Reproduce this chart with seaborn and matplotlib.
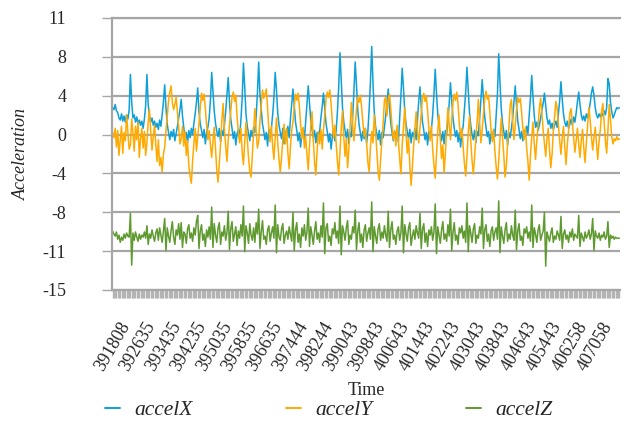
import matplotlib
matplotlib.use("Agg")
import matplotlib.pyplot as plt
import seaborn as sns
import numpy as np
import pandas as pd

# ---------------- data ----------------
accel_x = [
    2.6, 2.4, 2.9, 2.3, 2.1, 1.6, 1.4, 2.0, 1.3, 1.8, 1.2, 1.9, 1.5, 2.4,
    5.8, 3.1, 1.6, 1.9, 1.2, 1.7, 1.0, 1.4, 0.9, 1.3, 0.6, 1.5, 2.8,
    5.8, 2.9, 1.8, 1.2, 1.6, 0.9, 1.3, 0.7, 1.1, 0.5, 1.4, 0.8, 1.9, 3.2,
    4.8, 2.6, 1.0, 0.2, -0.5, 0.3, -0.2, 0.5, -0.6, 0.1, 0.8, 1.6, 2.4,
    3.4, 1.8, 0.7, -0.4, 0.2, -0.8, 0.4, -0.3, 0.6, 0.0, 1.1, 2.0, 3.1,
    4.5, 2.2, 1.0, 0.4, -0.3, 0.5, -0.9, 0.2, 0.7, 1.6, 3.3,
    6.0, 4.1, 2.3, 1.1, 0.3, -0.2, 0.6, -0.7, 0.4, -0.1, 0.9, 2.2, 3.8,
    5.5, 3.2, 1.5, 0.6, -0.4, 0.3, -1.0, 0.1, 0.5, -0.3, 1.4, 3.5,
    6.9, 4.6, 2.0, 0.8, 0.1, -0.6, 0.4, -0.2, 0.7, 0.2, 1.8, 4.0,
    7.0, 3.9, 2.4, 1.0, 0.3, -0.5, 0.2, -1.1, 0.5, -0.2, 0.6, 1.9, 3.6,
    6.0, 4.3, 2.1, 0.9, 0.2, -0.4, 0.6, -0.9, 0.3, -0.1, 0.8, -0.3, 1.5, 3.0,
    4.4, 2.8, 1.2, 0.4, -0.6, 0.2, -1.2, 0.1, 0.6, -0.4, 1.2, 2.9,
    4.7, 3.0, 1.4, 0.5, -0.3, 0.4, -0.8, 0.2, -0.5, 0.3, 1.6, 2.7,
    4.0, 2.5, 1.1, 0.3, -0.7, 0.1, -1.4, -0.2, 0.5, -0.6, 0.4, 2.2, 4.6,
    7.9, 5.2, 2.6, 1.2, 0.4, -0.3, 0.5, -0.9, 0.2, -0.2, 1.7, 4.2,
    7.0, 4.8, 2.4, 1.0, 0.2, -0.6, 0.3, -0.4, 0.6, -0.8, 0.4, 2.5, 5.1,
    8.5, 5.0, 2.2, 0.8, 0.1, -0.5, 0.4, -1.0, 0.2, -0.3, 0.7, 1.8, 3.0,
    4.4, 2.6, 1.1, 0.2, -0.6, 0.3, -0.2, 0.5, -0.7, 1.5, 3.8,
    6.4, 4.5, 2.3, 1.0, 0.3, -0.4, 0.5, -0.8, 0.2, -0.2, 0.6, -0.5, 1.3, 3.2,
    4.6, 2.7, 1.2, 0.4, -0.5, 0.2, -1.0, 0.3, -0.3, 0.5, 1.9, 3.9,
    6.3, 4.0, 2.0, 0.8, 0.1, -0.6, 0.3, -0.9, 0.4, 0.0, 1.4, 3.0,
    5.0, 3.3, 1.6, 0.6, -0.2, 0.4, -0.7, 0.2, -1.2, 0.1, 0.8, 2.4, 4.1,
    6.5, 4.2, 2.1, 0.9, 0.0, -0.5, 0.4, -0.8, 0.3, -0.1, 1.6, 3.4,
    5.3, 3.5, 1.7, 0.7, -0.2, 0.3, -0.9, 0.1, -0.4, 0.5, -0.2, 1.8, 3.9,
    7.8, 5.0, 2.5, 1.1, 0.3, -0.4, 0.4, -1.0, 0.2, -0.3, 0.6, 1.6, 3.1,
    4.7, 2.9, 1.3, 0.5, -0.4, 0.3, -0.6, 0.4, -0.2, 0.8, 0.1, 1.9, 3.6,
    5.7, 3.6, 1.8, 0.7, 1.2, 0.4, 0.9, 1.6, 2.4, 3.0,
    4.0, 2.8, 1.6, 1.0, 1.4, 0.6, 1.1, 0.5, 0.9, 1.3, 0.7, 2.0, 3.3,
    5.1, 3.4, 2.0, 1.2, 0.8, 1.3, 0.6, 1.0, 1.5, 0.9, 1.7, 1.2, 2.1, 3.2,
    4.1, 2.9, 1.9, 1.4, 1.8, 1.3, 2.0, 1.6, 2.2, 3.0, 4.0,
    4.6, 3.8, 2.6, 1.9, 1.6, 2.0, 1.7, 2.1, 1.8, 2.3, 1.9, 2.6,
    5.4, 4.9, 3.1, 2.2, 1.6, 1.9, 2.3, 2.6, 2.5, 2.6,
]

accel_y = [
    0.2, -0.3, 0.6, -1.2, 0.4, -2.0, -0.5, 0.8, -1.8, 0.2, -0.6, 1.9, 0.3, -1.4,
    -1.0, 1.5, 0.2, -1.6, 0.8, -0.5, 1.2, -2.2, -0.4, 0.6, -1.3, 0.3, -2.0,
    -0.8, 1.2, 2.4, 0.3, -1.5, -0.2, 0.9, -1.0, -2.6, -0.5, -3.0, -2.2, -3.6, -1.9,
    -1.2, 0.4, 1.8, 3.2, 4.1, 4.7, 3.1, 2.4, 2.9, 3.6, 2.2, 0.6, -0.9,
    -0.4, 0.8, -1.1, 0.3, -2.0, -0.6, -3.1, -4.0, -4.7, -2.5, -0.8, 0.6, -1.6,
    -0.3, 1.1, 2.6, 4.0, 3.3, 3.9, 2.5, 0.9, -0.5, 0.4, -1.0,
    -2.2, -0.6, 0.7, -1.3, -3.4, -4.6, -2.8, -0.9, 1.4, 3.0, 0.5, -1.0, -2.6,
    -0.5, 0.9, 2.3, 3.6, 4.1, 3.2, 3.8, 1.7, 0.2, -0.8, 0.6, -1.7,
    -2.9, -0.7, 1.2, -0.4, -2.2, -3.6, -4.1, -2.0, 0.3, 2.5, 0.4, -1.3,
    -0.6, 1.3, 2.8, 4.3, 3.5, 3.9, 4.4, 2.6, 0.5, -0.7, 0.8, -1.1, -2.4,
    -0.3, 1.6, -0.8, -2.4, -3.6, -2.2, -0.5, 1.0, -0.9, 0.6, -1.8, -3.3, -1.2, 0.4,
    1.2, 2.7, 3.9, 3.3, 4.0, 2.8, 1.0, -0.4, 0.7, -1.3, -0.2, -1.9,
    -3.4, -1.1, 0.8, 2.2, -0.5, -2.7, -3.9, -1.6, 0.3, -0.9, 0.5, -1.4,
    0.4, 1.8, 3.4, 4.1, 3.6, 4.3, 3.0, 1.2, -0.3, 0.9, -0.8, -2.6, -3.9,
    -1.7, 0.6, 2.3, -0.2, -2.1, -0.4, -3.2, -1.5, 0.8, 3.1, 1.0, -0.6,
    0.9, 2.4, 3.6, 3.1, 3.8, 2.7, 1.3, -0.2, 0.6, -0.9, -2.7, -3.6, -1.2,
    0.3, -0.8, 1.9, 0.4, -1.6, -3.5, -4.4, -2.4, -0.6, 1.1, 3.3, 3.6, 1.8,
    3.4, 3.9, 2.5, 0.8, -0.5, 0.4, -1.1, 0.9, -0.7, -2.3, -3.8,
    -1.0, 0.7, 2.6, 0.2, -1.8, -0.3, -3.0, -4.9, -3.2, -1.1, 0.5, 2.2, 0.3, -0.8,
    0.6, 2.1, 3.5, 4.0, 3.2, 3.7, 2.3, 0.6, -0.6, 0.8, -1.4, -2.9,
    -4.2, -2.0, 0.3, 1.9, -0.4, -2.3, -1.0, -3.7, -1.8, 0.4, 2.6, 0.9,
    -0.5, 1.4, 3.1, 3.9, 3.3, 4.1, 2.9, 1.0, -0.3, 0.6, -1.2, -2.8, -4.0,
    -2.1, 0.2, 1.8, -0.6, -2.5, -3.8, -2.2, -0.3, 1.2, 3.4, 1.1, -0.8,
    0.5, 2.0, 3.5, 4.2, 3.4, 3.8, 2.1, 0.4, -0.7, 0.5, -1.6, -3.1, -4.3,
    -2.6, -0.4, 1.6, -0.2, -2.0, -4.1, -3.0, -0.9, 0.7, 2.8, 3.4, 1.2, -0.5,
    0.8, 2.4, 3.6, 3.1, 3.5, 2.2, 0.6, -0.5, 0.7, -1.3, -2.6, -4.4, -2.0,
    -0.3, 1.2, -0.9, -2.4, -0.6, 0.9, 2.6, 3.5, 2.1, 0.4,
    -0.8, -2.1, -0.4, 0.6, -1.5, -3.2, -1.9, 0.3, 1.8, 3.2, 2.6, 0.9, -0.6,
    -1.9, -0.3, 0.8, -1.2, -2.9, -1.0, 0.4, 2.1, 2.5, 1.1, -0.4, -1.7, -0.5, 0.6,
    -0.9, -2.2, -0.6, 0.5, -1.3, -2.7, -0.8, 0.9, 2.6, 1.4, -0.2,
    -1.5, -0.3, 0.7, -0.9, -2.4, -0.7, 0.5, 2.2, 3.0, 1.2, -0.6, -1.8,
    0.4, 2.9, 1.5, -0.2, -0.9, -0.4, -0.6, -0.2, -0.5, -0.4,
]

accel_z = [
    -9.3, -9.6, -9.8, -9.4, -10.1, -9.7, -10.4, -9.9, -10.2, -9.6, -10.0, -9.5, -9.8, -9.9,
    -7.6, -12.6, -9.5, -10.2, -9.4, -9.9, -10.3, -9.6, -10.1, -9.7, -9.9, -9.4, -10.0,
    -8.8, -10.6, -9.6, -10.0, -9.2, -9.8, -10.3, -9.5, -9.1, -10.2, -9.0, -9.7, -10.4, -9.3,
    -8.1, -11.2, -9.0, -9.8, -10.4, -9.3, -8.4, -9.9, -10.6, -9.2, -9.7, -8.6, -10.1,
    -8.5, -10.9, -9.4, -9.6, -10.5, -9.1, -8.7, -10.0, -9.5, -10.3, -9.0, -9.7, -8.4,
    -7.8, -11.0, -9.3, -8.7, -10.2, -9.6, -10.8, -9.2, -9.9, -8.9, -10.1,
    -7.0, -10.9, -8.6, -9.7, -10.4, -9.0, -8.5, -10.6, -9.4, -9.8, -8.8, -10.2, -9.5,
    -7.4, -11.1, -9.1, -8.4, -10.3, -9.6, -8.9, -10.7, -9.3, -10.0, -8.7, -9.8,
    -6.9, -11.3, -8.8, -9.5, -10.5, -8.6, -9.7, -10.2, -9.0, -10.4, -8.5, -9.6,
    -7.2, -11.0, -9.4, -8.3, -10.1, -9.8, -10.6, -9.2, -8.8, -10.3, -9.5, -8.9, -10.0,
    -6.8, -11.4, -8.7, -9.9, -10.2, -9.1, -8.6, -10.5, -9.7, -9.3, -10.1, -8.9, -9.6, -10.3,
    -7.5, -11.2, -9.2, -8.5, -10.4, -9.6, -10.9, -9.0, -9.8, -8.7, -10.2, -9.4,
    -7.1, -10.8, -8.9, -9.7, -10.6, -9.3, -8.4, -10.1, -9.5, -10.4, -8.8, -9.9,
    -6.6, -11.5, -9.0, -8.6, -10.3, -9.8, -10.7, -9.1, -9.6, -8.5, -10.0, -9.3, -10.5,
    -6.9, -11.6, -8.8, -9.4, -10.2, -9.0, -8.3, -10.6, -9.7, -10.1, -8.9, -9.5,
    -7.3, -11.1, -9.3, -8.5, -10.4, -9.6, -10.9, -9.2, -8.7, -10.3, -9.5, -9.0, -10.1,
    -6.5, -11.3, -8.9, -9.8, -10.5, -9.1, -8.6, -10.2, -9.4, -10.0, -8.8, -9.7, -10.3,
    -7.4, -10.9, -9.2, -8.4, -10.1, -9.7, -10.6, -9.3, -8.9, -10.2, -9.5,
    -6.9, -11.4, -8.7, -9.6, -10.3, -9.0, -8.5, -10.7, -9.8, -9.2, -10.1, -8.8, -9.5, -10.0,
    -7.6, -11.0, -9.1, -8.6, -10.4, -9.5, -10.8, -9.2, -9.7, -8.9, -10.2, -9.4,
    -6.7, -11.5, -8.9, -9.7, -10.5, -9.2, -8.4, -10.1, -9.6, -10.3, -8.7, -9.8,
    -7.2, -11.2, -9.4, -8.5, -10.2, -9.7, -10.6, -9.0, -9.5, -8.8, -10.0, -9.3, -10.4,
    -6.6, -11.3, -8.8, -9.5, -10.4, -9.1, -8.6, -10.5, -9.7, -10.0, -8.9, -9.6,
    -7.1, -11.0, -9.2, -8.7, -10.3, -9.6, -10.8, -9.3, -8.9, -10.2, -9.4, -9.0, -10.1,
    -6.4, -11.4, -8.9, -9.8, -10.5, -9.2, -8.5, -10.3, -9.6, -10.1, -8.8, -9.7, -10.2,
    -7.3, -11.1, -9.3, -8.6, -10.2, -9.8, -10.7, -9.1, -9.5, -8.9, -10.0, -9.4, -10.3,
    -6.8, -10.9, -9.0, -9.6, -10.4, -9.2, -8.7, -10.2, -9.7, -9.3,
    -7.5, -12.7, -9.4, -9.9, -10.3, -9.5, -9.0, -10.4, -9.8, -10.1, -9.3, -9.7, -10.2,
    -7.9, -11.0, -9.6, -9.2, -10.1, -9.7, -10.4, -9.4, -9.9, -9.1, -10.2, -9.6, -9.8, -10.0,
    -7.8, -10.8, -9.5, -9.9, -10.3, -9.4, -10.0, -9.7, -9.2, -10.1, -9.6,
    -8.1, -11.2, -9.3, -9.8, -10.0, -9.5, -10.2, -9.7, -9.9, -9.4, -10.1, -9.8,
    -8.4, -10.9, -9.7, -10.0, -9.8, -10.1, -9.9, -10.0, -10.0, -10.0,
]

time_labels = ["391808", "392635", "393435", "394235", "395035", "395835",
               "396635", "397444", "398244", "399043", "399843", "400643",
               "401443", "402243", "403043", "403843", "404643", "405443",
               "406258", "407058"]
label_every = 20

y_ticks = [-15, -11.25, -7.5, -3.75, 0, 3.75, 7.5, 11.25]
y_tick_labels = ["-15", "-11", "-8", "-4", "0", "4", "8", "11"]

series_names = ["accelX", "accelY", "accelZ"]
series_colors = ["#0FA0D8", "#FFAA00", "#5F9A30"]

# ---------------- figure ----------------
sns.set_style("white")
plt.rcParams["font.family"] = ["Liberation Serif", "DejaVu Serif"]

n = min(len(accel_x), len(accel_y), len(accel_z))
df = pd.DataFrame({
    "idx": np.arange(n),
    "accelX": accel_x[:n],
    "accelY": accel_y[:n],
    "accelZ": accel_z[:n],
})

fig = plt.figure(figsize=(6.24, 4.29), dpi=100)
ax = fig.add_axes([112 / 624, 1 - 290 / 429, (620 - 112) / 624, (290 - 18) / 429])

for name, col in zip(series_names, series_colors):
    sns.lineplot(data=df, x="idx", y=name, ax=ax, color=col, lw=1.1, label=name)

grid_col = "#A6A6A6"
ax.set_xlim(-0.5, n - 0.5)
ax.set_ylim(y_ticks[0], y_ticks[-1])
ax.set_yticks(y_ticks)
ax.set_yticklabels(y_tick_labels)
ax.yaxis.grid(True, color=grid_col, lw=1.6)
ax.xaxis.grid(False)
ax.set_axisbelow(True)

for s in ["top", "bottom", "left"]:
    ax.spines[s].set_visible(True)
    ax.spines[s].set_color(grid_col)
    ax.spines[s].set_linewidth(1.6)
ax.spines["right"].set_visible(False)

ax.set_xticks(np.arange(n))
labels = [""] * n
for k, lab in enumerate(time_labels):
    pos = k * label_every
    if pos < n:
        labels[pos] = lab
ax.set_xticklabels(labels, rotation=60, ha="center", va="top", fontsize=13)
ax.tick_params(axis="x", length=6, width=1.0, color="#B4B4B4", pad=15, direction="out")
ax.tick_params(axis="y", length=7, width=1.0, color=grid_col, pad=26, labelsize=13, direction="out")
ax.tick_params(axis="y", which="both", left=True)
ax.tick_params(axis="x", which="both", bottom=True)

ax.set_xlabel("Time", fontsize=13)
ax.xaxis.set_label_coords(0.5, -0.34)
ax.set_ylabel("Acceleration", fontsize=13, style="italic")
ax.yaxis.set_label_coords(-0.161, 0.5)

leg = ax.legend(loc="center", bbox_to_anchor=(0.527, 0.044), bbox_transform=fig.transFigure,
                ncol=3, frameon=False, handlelength=0.7, handletextpad=0.7,
                columnspacing=4.3, prop={"size": 15.5, "style": "italic"})
for line in leg.get_lines():
    line.set_linewidth(1.4)

fig.savefig("out.png", dpi=100)
